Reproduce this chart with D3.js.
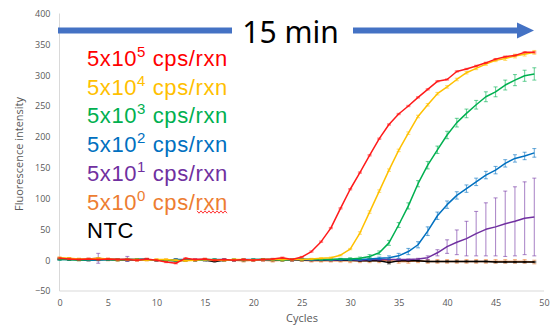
<!DOCTYPE html>
<html>
<head>
<meta charset="utf-8">
<script src="https://cdn.jsdelivr.net/npm/d3@7"></script>
<style>
  body { margin: 0; background: #fff; }
  svg { display: block; }
</style>
</head>
<body>
<svg id="chart" width="553" height="327"></svg>
<script>
// cycle numbers and tick labels
const cycles = d3.range(0, 50);
const xTicks = [0, 5, 10, 15, 20, 25, 30, 35, 40, 45, 50];
const yTicks = [-50, 0, 50, 100, 150, 200, 250, 300, 350, 400];

// mean fluorescence per cycle
const cps5e5 = [3,2,1,2,1,2,1,1,0,2, 0,-3,-5,3,1,2,0,1,0,1, 0,1,2,4,1,5,14,30,52,84,
  115,142,170,197,220,237,250,264,277,290, 293,306,310,315,320,326,330,332,337,337];
const cps5e4 = [4,3,2,2,3,2,1,1,1,0, 1,1,0,-1,0,1,0,0,1,1, 0,1,1,1,1,1,2,3,4,8,
  18,44,78,112,146,178,206,233,252,270, 281,293,304,311,318,324,327,331,334,337];
const cps5e3 = [1,1,0,1,1,1,0,1,1,1, 0,0,-1,0,0,1,1,0,1,0, 1,1,1,0,1,1,1,1,1,2,
  2,3,6,12,28,57,88,124,154,179, 203,223,238,252,265,273,284,292,299,302];
const cps5e2 = [1,1,1,0,0,1,1,0,1,1, 0,0,1,1,0,0,1,1,0,1, 1,1,1,1,1,2,1,1,1,1,
  1,1,2,3,4,7,14,25,47,72, 90,105,116,127,138,146,157,165,169,174];
const cps5e1 = [2,2,1,2,3,1,1,2,1,1, 0,0,-1,0,1,1,0,1,0,1, 0,0,1,1,0,1,0,1,0,1,
  1,0,1,1,1,1,1,2,4,12, 22,29,35,43,50,54,59,63,68,70];
const cps5e0 = [3,2,1,1,2,1,0,1,0,1, 0,0,-1,0,0,1,0,0,0,-1, 0,0,-1,0,0,0,-1,-1,-1,-1,
  -1,-1,-1,-1,-1,-2,-2,-1,-2,-2, -2,-2,-2,-2,-2,-2,-2,-2,-2,-3];
const ntc = [2,1,1,0,1,1,1,0,1,1, 0,0,1,0,0,0,-2,0,0,0, 0,1,0,0,0,0,0,0,0,0,
  0,-1,-1,-1,-4,-1,-1,-1,-2,-2, -2,-2,-2,-2,-2,-3,-3,-3,-3,-3];

// error bar half-widths
const err5e5 = [1,1,1,1,1,1,1,1,1,1, 1,1,1,1,1,1,1,1,1,1, 1,1,1,1,1,1,1,1,1,1,
  1,1,1,1,1,1,1,1,1,1, 1,1,1,1,1,1,1,1,1,1];
const err5e4 = [1,1,1,1,1,1,1,1,1,1, 1,1,1,1,1,1,1,1,1,1, 1,1,1,1,1,1,1,1,1,1,
  1,2,2,2,2,2,2,2,2,2, 2,2,2,2,2,2,3,3,3,3];
const err5e3 = [1,1,1,1,1,1,1,1,1,1, 1,1,1,1,1,1,1,1,1,1, 1,1,1,1,1,1,1,1,1,1,
  2,2,3,3,4,4,5,5,6,6, 6,7,7,7,8,8,8,9,9,10];
const err5e2 = [1,1,1,1,1,1,1,1,1,1, 1,1,1,1,1,1,1,1,1,1, 1,1,1,1,1,1,1,1,1,1,
  1,1,2,2,3,4,5,5,7,6, 6,6,6,6,6,6,6,6,6,7];
const err5e1 = [1,1,1,1,8,1,1,4,1,1, 1,1,1,1,1,1,1,1,1,1, 1,1,1,1,1,1,1,1,1,1,
  1,1,1,1,1,1,1,1,3,5, 11,20,28,36,43,47,53,56,59,63];
const err5e0 = [2,2,2,2,2,2,2,2,2,2, 2,2,2,2,2,2,2,2,2,2, 2,2,2,2,2,2,2,2,2,2,
  3,3,3,3,3,3,3,3,3,3, 3,3,3,3,3,3,3,3,3,3];
const errNtc = [1,1,1,1,1,1,1,1,1,1, 1,1,1,1,1,1,1,1,1,1, 1,1,1,1,1,1,1,1,1,1,
  1,1,1,1,2,1,1,1,1,1, 1,1,1,1,1,1,1,1,1,1];

// legend text
const legendBase = ["5x10", "5x10", "5x10", "5x10", "5x10", "5x10", "NTC"];
const legendExp = ["5", "4", "3", "2", "1", "0", ""];
const legendUnit = [" cps/rxn", " cps/rxn", " cps/rxn", " cps/rxn", " cps/rxn", " cps/rxn", ""];
const legendColors = ["#FF0000", "#FFC000", "#00B050", "#0070C0", "#7030A0", "#ED7D31", "#000000"];

const series = [
  {values: cps5e0, err: err5e0, color: "#ED7D31"},
  {values: ntc, err: errNtc, color: "#000000"},
  {values: cps5e1, err: err5e1, color: "#7030A0"},
  {values: cps5e2, err: err5e2, color: "#0070C0"},
  {values: cps5e3, err: err5e3, color: "#00B050"},
  {values: cps5e4, err: err5e4, color: "#FFC000"},
  {values: cps5e5, err: err5e5, color: "#FF1A1A"}
];

const svg = d3.select("#chart");

const x = d3.scaleLinear().domain([0, 50]).range([59.5, 544]);
const y = d3.scaleLinear().domain([-50, 400]).range([291, 13.5]);

// axis lines
svg.append("line")
   .attr("x1", x(0)).attr("x2", x(0))
   .attr("y1", y(400)).attr("y2", y(-50))
   .attr("stroke", "#d9d9d9");
svg.append("line")
   .attr("x1", x(0)).attr("x2", x(50))
   .attr("y1", y(-50)).attr("y2", y(-50))
   .attr("stroke", "#d9d9d9");

const yAxis = svg.append("g")
   .attr("transform", "translate(" + x(0) + ",0)")
   .call(d3.axisLeft(y).tickValues(yTicks).tickSize(0).tickPadding(9));
const xAxis = svg.append("g")
   .attr("transform", "translate(0," + y(-50) + ")")
   .call(d3.axisBottom(x).tickValues(xTicks).tickSize(0).tickPadding(9));
[yAxis, xAxis].forEach(a => {
  a.select(".domain").remove();
  a.selectAll("text")
   .attr("fill", "#595959")
   .style("font-family", "'Open Sans', sans-serif")
   .style("font-size", "9px");
});

svg.append("text")
   .attr("transform", "translate(23,154) rotate(-90)")
   .attr("text-anchor", "middle")
   .attr("fill", "#595959")
   .style("font-family", "'Open Sans', sans-serif")
   .style("font-size", "11px")
   .text("Fluorescence intensity");

svg.append("text")
   .attr("x", 302).attr("y", 322)
   .attr("text-anchor", "middle")
   .attr("fill", "#595959")
   .style("font-family", "'Open Sans', sans-serif")
   .style("font-size", "11px")
   .text("Cycles");

// series: error bars then line
const line = d3.line()
  .x((d, i) => x(cycles[i]))
  .y(d => y(d));

series.forEach(s => {
  const g = svg.append("g");
  const bars = g.selectAll(".err")
    .data(s.values)
    .enter()
    .append("g")
    .attr("stroke", s.color)
    .attr("stroke-opacity", 0.55)
    .attr("stroke-width", 1.1);
  bars.append("line")
    .attr("x1", (d, i) => x(cycles[i])).attr("x2", (d, i) => x(cycles[i]))
    .attr("y1", (d, i) => y(d + s.err[i])).attr("y2", (d, i) => y(d - s.err[i]));
  bars.append("line")
    .attr("x1", (d, i) => x(cycles[i]) - 2).attr("x2", (d, i) => x(cycles[i]) + 2)
    .attr("y1", (d, i) => y(d + s.err[i])).attr("y2", (d, i) => y(d + s.err[i]));
  bars.append("line")
    .attr("x1", (d, i) => x(cycles[i]) - 2).attr("x2", (d, i) => x(cycles[i]) + 2)
    .attr("y1", (d, i) => y(d - s.err[i])).attr("y2", (d, i) => y(d - s.err[i]));
  g.append("path")
    .datum(s.values)
    .attr("d", line)
    .attr("fill", "none")
    .attr("stroke", s.color)
    .attr("stroke-width", 1.5)
    .attr("stroke-linejoin", "round");
});

// title arrow
svg.append("line")
   .attr("x1", 58).attr("x2", 232).attr("y1", 30.5).attr("y2", 30.5)
   .attr("stroke", "#4472C4").attr("stroke-width", 6);
svg.append("line")
   .attr("x1", 353).attr("x2", 518).attr("y1", 30.5).attr("y2", 30.5)
   .attr("stroke", "#4472C4").attr("stroke-width", 6);
svg.append("path")
   .attr("d", "M517,22.5 L534,30.5 L517,38.5 Z")
   .attr("fill", "#4472C4");
svg.append("text")
   .attr("x", 290.5).attr("y", 43)
   .attr("text-anchor", "middle")
   .attr("fill", "#000")
   .style("font-family", "'Noto Sans', sans-serif")
   .style("font-size", "30px")
   .text("15 min");

// legend
const legend = svg.append("g")
   .style("font-family", "'Liberation Sans', Arial, sans-serif")
   .style("font-size", "22px")
   .style("letter-spacing", "0.6px");
legendBase.forEach((b, i) => {
  const t = legend.append("text")
     .attr("x", 87)
     .attr("y", 66 + i * 28.7)
     .attr("fill", legendColors[i]);
  t.append("tspan").text(b);
  if (legendExp[i]) {
    t.append("tspan")
     .attr("dy", -9)
     .style("font-size", "15px")
     .text(legendExp[i]);
    t.append("tspan")
     .attr("dy", 9)
     .text(legendUnit[i]);
  }
});

// spell-check squiggle under the last "rxn"
const sq = d3.range(197, 229, 2).map((px, k) => [px, 212 + (k % 2 ? 1.2 : -1.2)]);
svg.append("path")
   .attr("d", d3.line()(sq))
   .attr("fill", "none")
   .attr("stroke", "#FF0000")
   .attr("stroke-width", 0.8);
</script>
</body>
</html>
